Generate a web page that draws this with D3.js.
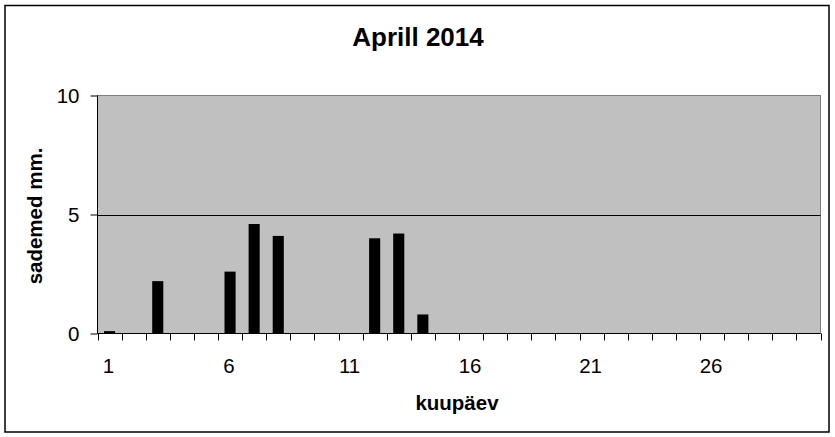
<!DOCTYPE html>
<html>
<head>
<meta charset="utf-8">
<script src="https://cdn.jsdelivr.net/npm/d3@7"></script>
<style>
  html, body { margin: 0; padding: 0; background: #fff; }
  svg { display: block; }
  text { font-family: "Liberation Sans", Arial, sans-serif; fill: #000; }
</style>
</head>
<body>
<svg id="chart" width="835" height="437"></svg>
<script>
const title = "Aprill 2014";
const xTitle = "kuupäev";
const yTitle = "sademed mm.";
const days = [1,2,3,4,5,6,7,8,9,10,11,12,13,14,15,16,17,18,19,20,21,22,23,24,25,26,27,28,29,30];
const precip = [0.1,0,2.2,0,0,2.6,4.6,4.1,0,0,0,4.0,4.2,0.8,0,0,0,0,0,0,0,0,0,0,0,0,0,0,0,0];
const xTickLabels = [1,6,11,16,21,26];
const yTicks = [0,5,10];

const svg = d3.select("#chart");
const plot = { left: 97.5, right: 820.5, top: 95.5, bottom: 333.5 };

// outer border
svg.append("rect").attr("x", 5).attr("y", 5.5).attr("width", 824).attr("height", 426.5)
  .attr("fill", "#fff").attr("stroke", "#000").attr("stroke-width", 1.5);

const x = d3.scaleBand().domain(days).range([plot.left, plot.right]).padding(0);
const y = d3.scaleLinear().domain([0, 10]).range([plot.bottom, plot.top]);

// plot background
svg.append("rect").attr("x", plot.left).attr("y", plot.top)
  .attr("width", plot.right - plot.left).attr("height", plot.bottom - plot.top)
  .attr("fill", "#c0c0c0").attr("stroke", "#808080").attr("stroke-width", 1);

// gridline at 5
svg.append("g").selectAll("line").data([5]).join("line")
  .attr("x1", plot.left).attr("x2", plot.right)
  .attr("y1", d => Math.round(y(d)) + 0.5).attr("y2", d => Math.round(y(d)) + 0.5)
  .attr("stroke", "#000").attr("stroke-width", 1);

// bars
const bw = x.bandwidth() * 0.46;
svg.append("g").selectAll("rect").data(days.map((d, i) => ({ d, v: precip[i] })).filter(o => o.v > 0))
  .join("rect")
  .attr("x", o => x(o.d) + (x.bandwidth() - bw) / 2)
  .attr("y", o => y(o.v))
  .attr("width", bw)
  .attr("height", o => y(0) - y(o.v))
  .attr("fill", "#000");

// y axis
const yAxis = d3.axisLeft(y).tickValues(yTicks).tickSize(7).tickPadding(11).tickFormat(d3.format("d"));
const gy = svg.append("g").attr("transform", `translate(${plot.left},0)`).call(yAxis);
gy.select(".domain").attr("stroke", "#000").attr("d", `M0,${plot.top}V${plot.bottom}`);
gy.selectAll(".tick line").attr("stroke", "#000");
gy.selectAll(".tick text").style("font-size", "20.5px").style("font-family", "'Liberation Sans', Arial, sans-serif").attr("fill", "#000");

// x axis: ticks at band boundaries
const boundaries = days.map(d => x(d)).concat([plot.right]);
const gx = svg.append("g");
gx.append("line").attr("x1", plot.left).attr("x2", plot.right)
  .attr("y1", plot.bottom).attr("y2", plot.bottom).attr("stroke", "#000");
gx.selectAll("line.tk").data(boundaries).join("line").attr("class", "tk")
  .attr("x1", d => Math.round(d) + 0.5).attr("x2", d => Math.round(d) + 0.5)
  .attr("y1", plot.bottom).attr("y2", plot.bottom + 7).attr("stroke", "#000");
gx.selectAll("text").data(xTickLabels).join("text")
  .attr("x", d => x(d) + x.bandwidth() / 2 - 1)
  .attr("y", 372.5)
  .attr("text-anchor", "middle")
  .style("font-size", "20.5px")
  .text(d => d);

// titles
svg.append("text").attr("x", 418).attr("y", 46).attr("text-anchor", "middle")
  .style("font-size", "26px").style("font-weight", "bold").text(title);
svg.append("text").attr("x", 457).attr("y", 410).attr("text-anchor", "middle")
  .style("font-size", "20.5px").style("font-weight", "bold").text(xTitle);
svg.append("text").attr("transform", "translate(42,216) rotate(-90)").attr("text-anchor", "middle")
  .style("font-size", "20.5px").style("font-weight", "bold").text(yTitle);
</script>
</body>
</html>
